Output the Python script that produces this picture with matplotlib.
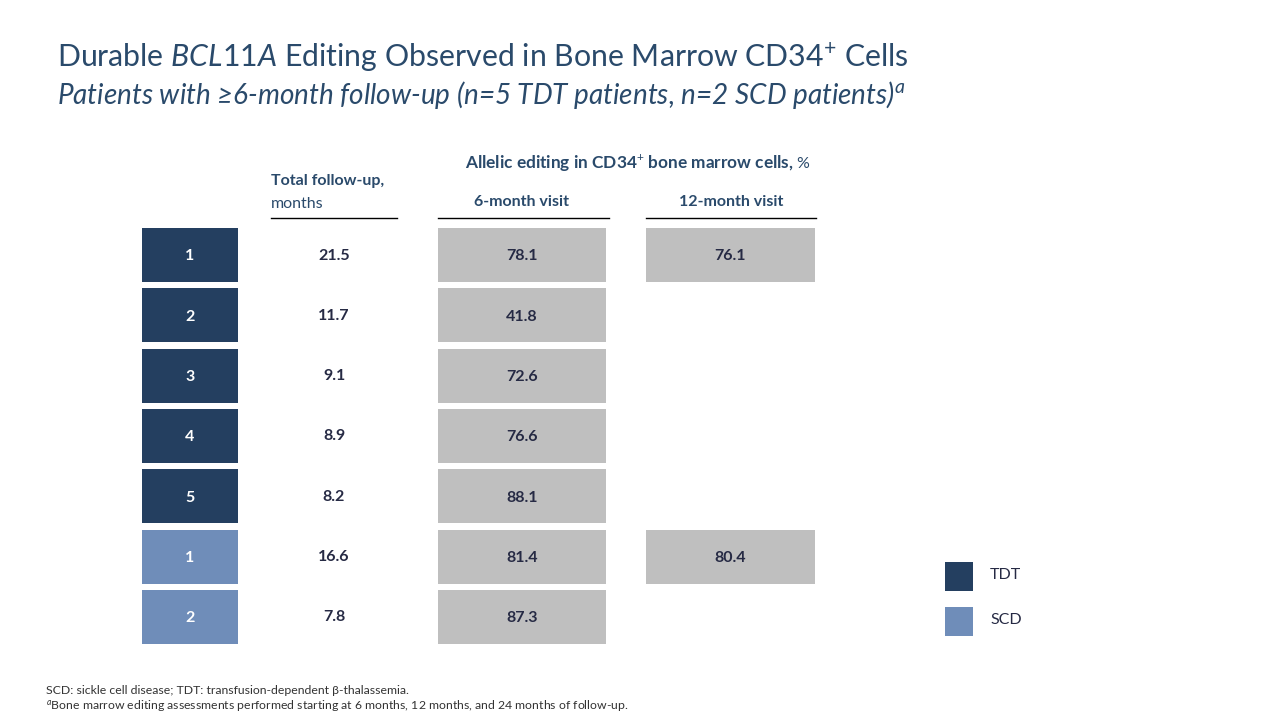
import matplotlib.pyplot as plt
from matplotlib.patches import Rectangle

# data
patient_ids = ['1', '2', '3', '4', '5', '1', '2']
groups = ['TDT', 'TDT', 'TDT', 'TDT', 'TDT', 'SCD', 'SCD']
follow_up = [21.5, 11.7, 9.1, 8.9, 8.2, 16.6, 7.8]
edit_6m = [78.1, 41.8, 72.6, 76.6, 88.1, 81.4, 87.3]
edit_12m = [76.1, None, None, None, None, 80.4, None]

group_colors = {'TDT': '#243F60', 'SCD': '#6F8DB9'}
GRAY = '#BFBFBF'
NAVY = '#2A4A6B'
VAL = '#262A44'

plt.rcParams['font.family'] = ['Lato', 'DejaVu Sans']
plt.rcParams['mathtext.fontset'] = 'custom'
plt.rcParams['mathtext.rm'] = 'Lato'
plt.rcParams['mathtext.it'] = 'Lato:italic'
plt.rcParams['mathtext.bf'] = 'Lato:bold'

fig = plt.figure(figsize=(12.8, 7.2), dpi=100)
ax = fig.add_axes([0, 0, 1, 1])
ax.set_xlim(0, 1280)
ax.set_ylim(720, 0)
ax.axis('off')

# titles
ax.text(57, 57, 'Durable $\\it{BCL11A}$ Editing Observed in Bone Marrow CD34$^{+}$ Cells',
        fontsize=21.8, color=NAVY, va='center', ha='left')
ax.text(57, 95, 'Patients with \u22656-month follow-up (n=5 TDT patients, n=2 SCD patients)$^{\\it{a}}$',
        fontsize=20.1, color=NAVY, va='center', ha='left', style='italic')

# column headers
ax.text(271, 181, 'Total follow-up,', fontsize=11.5, fontweight='bold', color=NAVY, va='center')
ax.text(271, 204, 'months', fontsize=11.5, color=NAVY, va='center')
ax.text(794, 168, 'Allelic editing in CD34$^{+}$ bone marrow cells,', fontsize=12.4,
        fontweight='bold', color=NAVY, va='baseline', ha='right')
ax.text(796, 168, '%', fontsize=11.5, color=NAVY, va='baseline', ha='left')
ax.text(522, 202, '6-month visit', fontsize=11.5, fontweight='bold', color=NAVY, va='center', ha='center')
ax.text(731, 202, '12-month visit', fontsize=11.5, fontweight='bold', color=NAVY, va='center', ha='center')
for x0, x1 in [(271, 397), (438, 609), (646, 816)]:
    ax.plot([x0, x1], [218, 218], color='black', lw=1)

# rows
top0 = 228
pitch = 60.3
h = 54
for i in range(len(patient_ids)):
    y = top0 + i * pitch
    ty = y + h / 2 + 1.5
    ax.add_patch(Rectangle((142, y), 96, h, color=group_colors[groups[i]], lw=0))
    ax.text(190, ty, patient_ids[i], color='white', fontsize=11.5, fontweight='bold',
            ha='center', va='center')
    ax.text(334, ty - 1, '%.1f' % follow_up[i], color=VAL, fontsize=11.5, fontweight='bold',
            ha='center', va='center')
    ax.add_patch(Rectangle((438, y), 168, h, color=GRAY, lw=0))
    ax.text(522, ty, '%.1f' % edit_6m[i], color=VAL, fontsize=11.5, fontweight='bold',
            ha='center', va='center')
    if edit_12m[i] is not None:
        ax.add_patch(Rectangle((646, y), 169, h, color=GRAY, lw=0))
        ax.text(730, ty, '%.1f' % edit_12m[i], color=VAL, fontsize=11.5, fontweight='bold',
                ha='center', va='center')

# legend
for name, ly in [('TDT', 562), ('SCD', 607)]:
    ax.add_patch(Rectangle((945, ly), 28, 29, color=group_colors[name], lw=0))
    ax.text(990, ly + 13, name, fontsize=11.5, color=VAL, va='center')

# footnotes
ax.text(46, 690, 'SCD: sickle cell disease; TDT: transfusion-dependent \u03b2-thalassemia.',
        fontsize=8.8, color='#333333', va='center')
ax.text(46, 706, '$^{a}$Bone marrow editing assessments performed starting at 6 months, 12 months, and 24 months of follow-up.',
        fontsize=8.8, color='#333333', va='center')

fig.savefig('out.png', dpi=100)
